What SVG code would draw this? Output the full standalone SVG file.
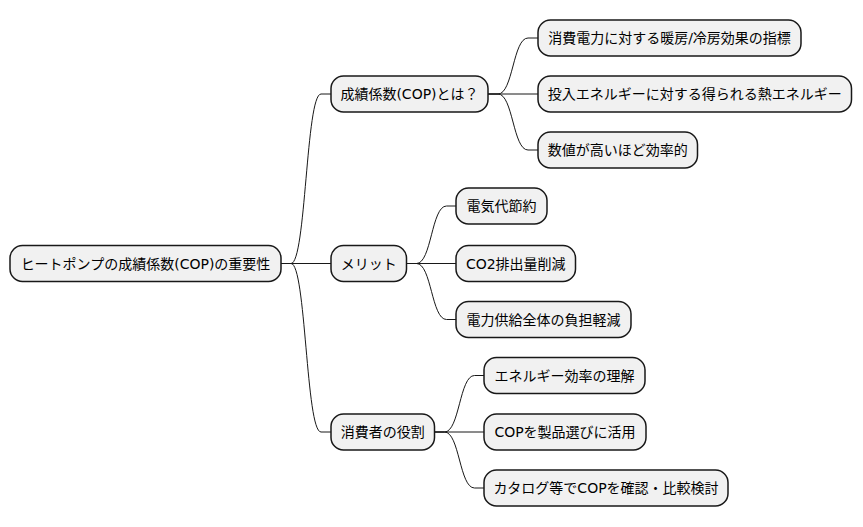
<svg xmlns="http://www.w3.org/2000/svg" width="863" height="527" viewBox="0 0 863 527">
<style>
.n rect{fill:#F1F1F1;stroke:#181818;stroke-width:1.5}
.n text{font-family:"DejaVu Sans","Noto Sans CJK JP",sans-serif;font-size:14px;fill:#000;text-anchor:middle}
#edges path{fill:none;stroke:#181818;stroke-width:1}
</style>
<rect width="863" height="527" fill="#FFFFFF"/>
<g id="edges">
<path d="M281,263.5 L291,263.5 C306,263.5 306,94 321,94 L331,94"/>
<path d="M281,263.5 L331,263.5"/>
<path d="M281,263.5 L291,263.5 C306,263.5 306,432 321,432 L331,432"/>
<path d="M488,94 L498,94 C513,94 513,38 528,38 L538,38"/>
<path d="M488,94 L538,94"/>
<path d="M488,94 L498,94 C513,94 513,150 528,150 L538,150"/>
<path d="M406.5,263.5 L416.5,263.5 C431.5,263.5 431.5,206 446.5,206 L456,206"/>
<path d="M406.5,263.5 L456,263.5"/>
<path d="M406.5,263.5 L416.5,263.5 C431.5,263.5 431.5,319.5 446.5,319.5 L456,319.5"/>
<path d="M434.5,432 L444.5,432 C459.5,432 459.5,375.5 474.5,375.5 L484,375.5"/>
<path d="M434.5,432 L484,432"/>
<path d="M434.5,432 L444.5,432 C459.5,432 459.5,488 474.5,488 L484,488"/>
</g>
<g id="root" class="n"><rect x="10" y="245.5" width="271" height="36" rx="12.5"/><text x="145.5" y="268.5">ヒートポンプの成績係数(COP)の重要性</text></g>
<g id="cop" class="n"><rect x="331" y="76" width="157" height="36" rx="12.5"/><text x="409.5" y="99">成績係数(COP)とは？</text></g>
<g id="merit" class="n"><rect x="331" y="245.5" width="75.5" height="36" rx="12.5"/><text x="368.75" y="268.5">メリット</text></g>
<g id="role" class="n"><rect x="331" y="414" width="103.5" height="36" rx="12.5"/><text x="382.75" y="437">消費者の役割</text></g>
<g id="cop1" class="n"><rect x="538" y="20" width="263" height="36" rx="12.5"/><text x="669.5" y="43">消費電力に対する暖房/冷房効果の指標</text></g>
<g id="cop2" class="n"><rect x="538" y="76" width="313.5" height="36" rx="12.5"/><text x="694.75" y="99">投入エネルギーに対する得られる熱エネルギー</text></g>
<g id="cop3" class="n"><rect x="538" y="132" width="159.5" height="36" rx="12.5"/><text x="617.75" y="155">数値が高いほど効率的</text></g>
<g id="merit1" class="n"><rect x="456" y="188" width="91" height="36" rx="12.5"/><text x="501.5" y="211">電気代節約</text></g>
<g id="merit2" class="n"><rect x="456" y="245.5" width="119.5" height="36" rx="12.5"/><text x="515.75" y="268.5">CO2排出量削減</text></g>
<g id="merit3" class="n"><rect x="456" y="301.5" width="175" height="36" rx="12.5"/><text x="543.5" y="324.5">電力供給全体の負担軽減</text></g>
<g id="role1" class="n"><rect x="484" y="357.5" width="161" height="36" rx="12.5"/><text x="564.5" y="380.5">エネルギー効率の理解</text></g>
<g id="role2" class="n"><rect x="484" y="414" width="162" height="36" rx="12.5"/><text x="565" y="437">COPを製品選びに活用</text></g>
<g id="role3" class="n"><rect x="484" y="470" width="244" height="36" rx="12.5"/><text x="606" y="493">カタログ等でCOPを確認・比較検討</text></g>
</svg>
